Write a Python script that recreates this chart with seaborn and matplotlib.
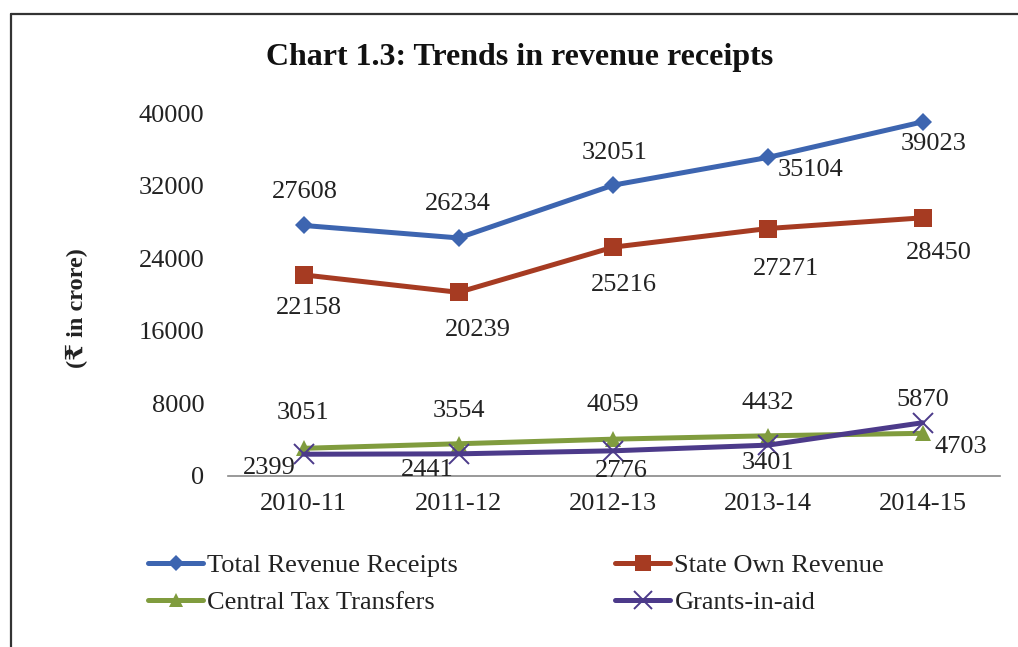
import matplotlib
matplotlib.use("Agg")
import matplotlib.pyplot as plt
from matplotlib.lines import Line2D
import seaborn as sns
import pandas as pd

years = ["2010-11", "2011-12", "2012-13", "2013-14", "2014-15"]
total_revenue = [27608, 26234, 32051, 35104, 39023]
state_own = [22158, 20239, 25216, 27271, 28450]
central_tax = [3051, 3554, 4059, 4432, 4703]
grants = [2399, 2441, 2776, 3401, 5870]
y_ticks = [0, 8000, 16000, 24000, 32000, 40000]

series_names = ["Total Revenue Receipts", "State Own Revenue",
                "Central Tax Transfers", "Grants-in-aid"]
series_values = [total_revenue, state_own, central_tax, grants]
colors = ["#3D65B0", "#A63B22", "#809C3E", "#4C3A8A"]
markers = ["D", "s", "^", "x"]
marker_sizes = [9, 13, 12, 15]

# label offsets in pixels (dx, dy) from each point
label_offsets = [
    [(1, 33), (-1, 34), (1, 32), (43, -13), (11, -22)],
    [(5, -33), (19, -38), (11, -38), (18, -40), (16, -35)],
    [(-1, 35), (0, 33), (0, 34), (0, 33), (38, -14)],
    [(-34, -14), (-31, -16), (8, -20), (0, -18), (0, 23)],
]

sns.set_theme(style="white")
plt.rcParams["font.family"] = ["Liberation Serif", "DejaVu Serif", "DejaVu Sans"]

fs = 19

fig = plt.figure(figsize=(10.18, 6.47), dpi=100)
ax = fig.add_axes([228 / 1018, 1 - 476 / 647, (1000 - 228) / 1018, (476 - 113) / 647])

df = pd.DataFrame({"year": years})
handles = []
for name, vals, c, m, ms in zip(series_names, series_values, colors, markers, marker_sizes):
    df[name] = vals
    mew = 1.4 if m == "x" else 0
    sns.lineplot(data=df, x="year", y=name, ax=ax, color=c, marker=m,
                 markersize=ms, markeredgewidth=mew, markeredgecolor=c,
                 linewidth=3.6, sort=False)
    handles.append(Line2D([], [], color=c, marker=m, markersize=ms * 0.85,
                          markeredgewidth=mew, markeredgecolor=c, linewidth=3.6))

for vals, offs in zip(series_values, label_offsets):
    for i, (v, (dx, dy)) in enumerate(zip(vals, offs)):
        ax.annotate(str(v), (i, v), xytext=(dx, dy), textcoords="offset pixels",
                    ha="center", va="center", fontsize=fs, color="#222222")

ax.set_xlim(-0.49, 4.5)
ax.set_ylim(0, 40000)
ax.set_yticks(y_ticks)
ax.set_yticklabels([str(t) for t in y_ticks])
ax.set_xlabel("")
ax.set_ylabel("")
ax.tick_params(axis="y", length=0, pad=17, labelsize=fs, labelcolor="#222222")
ax.tick_params(axis="x", length=0, pad=12, labelsize=fs, labelcolor="#222222")
for s in ["top", "right", "left"]:
    ax.spines[s].set_visible(False)
ax.spines["bottom"].set_color("#888888")
ax.spines["bottom"].set_linewidth(1.2)
ax.patch.set_alpha(0)

fig.text(520 / 1018, 1 - 57 / 647, "Chart 1.3: Trends in revenue receipts",
         ha="center", va="center", fontsize=23, fontweight="bold", color="#111111")
fig.text(77 / 1018, 1 - 308 / 647, "(₹ in crore)", rotation=90,
         ha="center", va="center", fontsize=17.5, fontweight="bold", color="#222222")

leg_kw = dict(frameon=False, fontsize=fs, handlelength=2.1, handletextpad=0.15,
              labelspacing=0.5, borderpad=0, borderaxespad=0, loc="upper left")
leg1 = fig.legend([handles[0], handles[2]], [series_names[0], series_names[2]],
                  bbox_to_anchor=(148 / 1018, 1 - 554 / 647), **leg_kw)
leg2 = fig.legend([handles[1], handles[3]], [series_names[1], series_names[3]],
                  bbox_to_anchor=(615 / 1018, 1 - 554 / 647), **leg_kw)
for leg in (leg1, leg2):
    for t in leg.get_texts():
        t.set_color("#222222")

# outer frame (top and left edges)
fig.add_artist(Line2D([11 / 1018, 1.0], [1 - 14 / 647, 1 - 14 / 647],
                      transform=fig.transFigure, color="#333333", linewidth=1.6))
fig.add_artist(Line2D([11 / 1018, 11 / 1018], [0.0, 1 - 14 / 647],
                      transform=fig.transFigure, color="#333333", linewidth=1.6))

fig.savefig("out.png", dpi=100)
